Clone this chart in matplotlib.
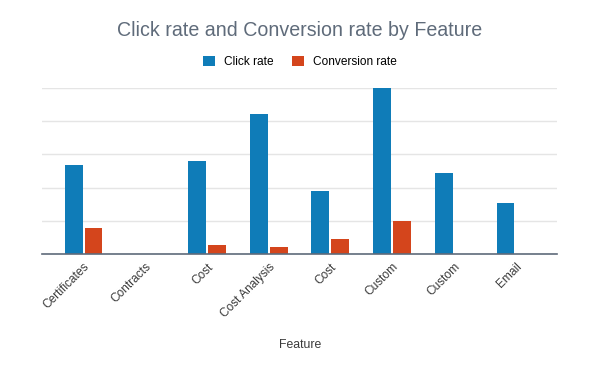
import matplotlib
matplotlib.use("Agg")
import matplotlib.pyplot as plt
import numpy as np
from matplotlib.patches import Patch

categories = ["Certificates", "Contracts", "Cost", "Cost Analysis", "Cost", "Custom", "Custom", "Email"]
click_rate = [2.68, 0.0, 2.81, 4.23, 1.90, 5.00, 2.43, 1.54]
conversion_rate = [0.77, 0.0, 0.27, 0.21, 0.44, 1.00, 0.0, 0.0]

BLUE = "#0f7cb8"
RED = "#d4451c"
TEXT = "#5f6b7a"

plt.rcParams['font.family'] = ['Liberation Sans', 'DejaVu Sans']

fig = plt.figure(figsize=(6.0, 3.71), dpi=100)
W, H = 600, 371
ax = fig.add_axes([42 / W, 1 - 254 / H, (557 - 42) / W, (254 - 88) / H])

x = np.arange(len(categories))
bw = 0.29
gap = 0.033
ax.bar(x - (bw + gap) / 2, click_rate, width=bw, color=BLUE, zorder=3, linewidth=0)
ax.bar(x + (bw + gap) / 2, conversion_rate, width=bw, color=RED, zorder=3, linewidth=0)

ax.set_xlim(-0.673, len(categories) - 1 + 0.673)
ax.set_ylim(0, 5)
ax.set_yticks([0, 1, 2, 3, 4, 5])
ax.yaxis.grid(True, color="#e5e5e5", linewidth=1, zorder=0)
ax.tick_params(axis='y', length=0, labelleft=False)
ax.set_xticks(x)
ax.set_xticklabels(categories, rotation=45, ha='right', rotation_mode='anchor',
                   fontsize=8.6, color="#3a3a3a")
ax.tick_params(axis='x', length=0, pad=5)
for s in ['top', 'right', 'left']:
    ax.spines[s].set_visible(False)
ax.spines['bottom'].set_color(TEXT)
ax.spines['bottom'].set_linewidth(1.2)
ax.spines['bottom'].set_zorder(4)

fig.text(0.5, 1 - 31 / H, "Click rate and Conversion rate by Feature", ha='center', va='center',
         fontsize=14.1, color=TEXT)
fig.text(0.5, 1 - 345 / H, "Feature", ha='center', va='center', fontsize=8.8, color="#3a3a3a")

handles = [Patch(facecolor=BLUE, label="Click rate"), Patch(facecolor=RED, label="Conversion rate")]
fig.legend(handles=handles, loc='center', bbox_to_anchor=(0.5, 1 - 62 / H), ncol=2, frameon=False,
           fontsize=8.6, handlelength=1.0, handleheight=1.0, handletextpad=0.7, columnspacing=1.6)

fig.savefig("out.png", dpi=100)
